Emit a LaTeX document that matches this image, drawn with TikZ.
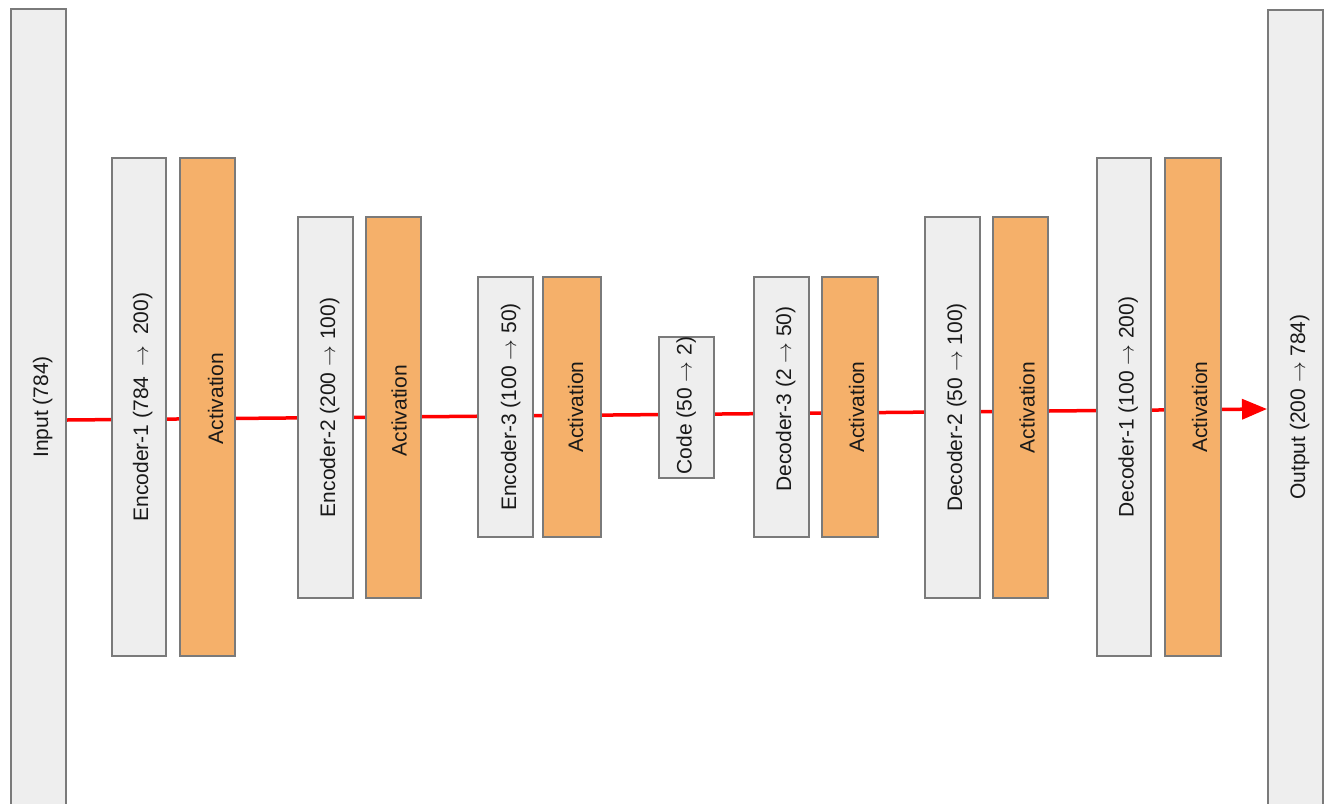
\documentclass[tikz,border=0pt]{standalone}
\usepackage{fontspec}
\setmainfont{Liberation Sans}
\usetikzlibrary{arrows.meta}
\definecolor{boxgray}{HTML}{EEEEEE}
\definecolor{boxedge}{HTML}{7A7A7A}
\definecolor{actorange}{HTML}{F5B06A}
\definecolor{flowred}{HTML}{FF0000}
% thin, long arrow used inside the layer captions
\newcommand{\ar}{$\rightarrow$}
\begin{document}
\begin{tikzpicture}[x=1pt,y=-1pt,
  layer/.style={draw=boxedge, line width=1.4pt, fill=boxgray, inner sep=0pt},
  act/.style={layer, fill=actorange},
  vtext/.style={rotate=90, anchor=base, inner sep=0pt,
    font=\fontsize{21}{24}\selectfont, text=black!90},
  flow/.style={draw=flowred, line width=3.5pt,
    -{Triangle[length=25pt,width=20pt]}}]
\useasboundingbox (0,0) rectangle (1330,803);
\clip (0,0) rectangle (1330,803);
\fill[white] (0,0) rectangle (1330,803);

% main data path, drawn behind the layers
\coordinate (src) at (67,420);
\coordinate (dst) at (1267,409);
\draw[flow] (src) -- (dst);

% input and output
\node[layer, minimum width=55pt, minimum height=796pt] (in) at (38.5,407) {};
\node[layer, minimum width=55pt, minimum height=796pt] (out) at (1295.5,408) {};

% encoder
\node[layer, minimum width=54pt, minimum height=498pt] (e1) at (139,407) {};
\node[act, minimum width=55pt, minimum height=498pt] (a1) at (207.5,407) {};
\node[layer, minimum width=55pt, minimum height=381pt] (e2) at (325.5,407.5) {};
\node[act, minimum width=55pt, minimum height=381pt] (a2) at (393.5,407.5) {};
\node[layer, minimum width=55pt, minimum height=260pt] (e3) at (505.5,407) {};
\node[act, minimum width=58pt, minimum height=260pt] (a3) at (572,407) {};

% bottleneck
\node[layer, minimum width=55pt, minimum height=141pt] (code) at (686.5,407.5) {};

% decoder
\node[layer, minimum width=55pt, minimum height=260pt] (d3) at (781.5,407) {};
\node[act, minimum width=56pt, minimum height=260pt] (a4) at (850,407) {};
\node[layer, minimum width=55pt, minimum height=381pt] (d2) at (952.5,407.5) {};
\node[act, minimum width=55pt, minimum height=381pt] (a5) at (1020.5,407.5) {};
\node[layer, minimum width=54pt, minimum height=498pt] (d1) at (1124,407) {};
\node[act, minimum width=56pt, minimum height=498pt] (a6) at (1193,407) {};

% captions, set on a vertical baseline to the right of each box centre
\node[vtext] (in-t) at ([xshift=9.5pt]in.center) {Input (784)};
\node[vtext] (out-t) at ([xshift=9.5pt,yshift=1pt]out.center) {Output (200 \ar{} 784)};
\node[vtext] (e1-t) at ([xshift=9pt]e1.center) {Encoder-1 (784\hspace{0.5em}\ar\hspace{0.5em}200)};
\node[vtext] (a1-t) at ([xshift=15.5pt,yshift=8.5pt]a1.center) {Activation};
\node[vtext] (e2-t) at ([xshift=9.5pt]e2.center) {Encoder-2 (200 \ar{} 100)};
\node[vtext] (a2-t) at ([xshift=13pt,yshift=-3pt]a2.center) {Activation};
\node[vtext] (e3-t) at ([xshift=10.5pt]e3.center) {Encoder-3 (100 \ar{} 50)};
\node[vtext] (a3-t) at ([xshift=11pt]a3.center) {Activation};
\node[vtext] (code-t) at ([xshift=5pt,yshift=2pt]code.center) {Code (50 \ar{} 2)};
\node[vtext] (d3-t) at ([xshift=9.5pt,yshift=8pt]d3.center) {Decoder-3 (2 \ar{} 50)};
\node[vtext] (a4-t) at ([xshift=14pt]a4.center) {Activation};
\node[vtext] (d2-t) at ([xshift=9.5pt]d2.center) {Decoder-2 (50 \ar{} 100)};
\node[vtext] (a5-t) at ([xshift=14pt]a5.center) {Activation};
\node[vtext] (d1-t) at ([xshift=9.5pt]d1.center) {Decoder-1 (100 \ar{} 200)};
\node[vtext] (a6-t) at ([xshift=14pt]a6.center) {Activation};
\end{tikzpicture}
\end{document}
